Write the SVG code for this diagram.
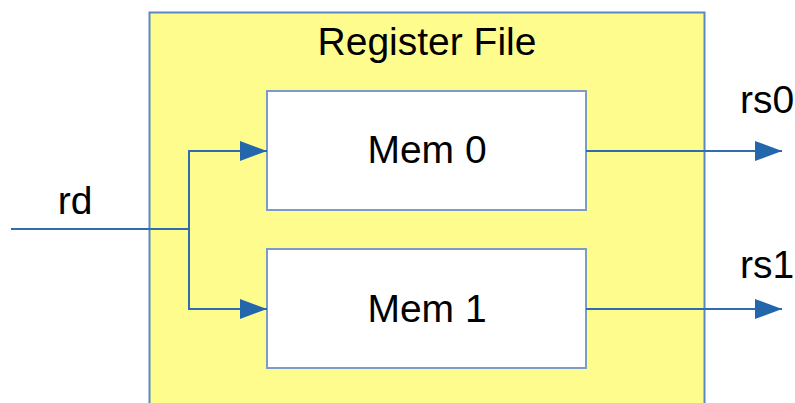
<svg xmlns="http://www.w3.org/2000/svg" width="795" height="403" viewBox="0 0 795 403">
  <defs>
    <marker id="arrow" markerUnits="userSpaceOnUse" markerWidth="28" markerHeight="20" refX="27" refY="10" orient="auto">
      <path d="M0,0 L27,10 L0,20 Z" fill="#2466AC"/>
    </marker>
    <style>
      .lbl { font-family: "Liberation Sans", Arial, sans-serif; font-size: 39px; fill: #000; }
      .wire { fill: none; stroke: #2F6DB0; stroke-width: 2; }
      .mem { fill: #FFFFFF; stroke: #7C9CC4; stroke-width: 2; }
    </style>
  </defs>

  <rect width="795" height="403" fill="#FFFFFF"/>

  <!-- register file container -->
  <g id="register-file">
    <rect x="149.5" y="12.5" width="555" height="400" fill="#FFFC8E" stroke="#5A88C0" stroke-width="2"/>
    <text class="lbl" x="427" y="55" text-anchor="middle">Register File</text>
  </g>

  <g id="mem0">
    <rect class="mem" x="267" y="91" width="319" height="119"/>
    <text class="lbl" x="427" y="163" text-anchor="middle">Mem 0</text>
  </g>

  <g id="mem1">
    <rect class="mem" x="267" y="249" width="319" height="119"/>
    <text class="lbl" x="427" y="322" text-anchor="middle">Mem 1</text>
  </g>

  <!-- port labels -->
  <g id="rd">
    <text class="lbl" x="75" y="214" text-anchor="middle">rd</text>
  </g>
  <g id="rs0">
    <text class="lbl" x="740" y="113">rs0</text>
  </g>
  <g id="rs1">
    <text class="lbl" x="740" y="278">rs1</text>
  </g>

  <!-- connectors -->
  <g id="connectors">
    <path class="wire" d="M11,229 H189"/>
    <path class="wire" d="M189,229 V151 H267" marker-end="url(#arrow)"/>
    <path class="wire" d="M189,229 V309 H267" marker-end="url(#arrow)"/>
    <path class="wire" d="M586,151 H782" marker-end="url(#arrow)"/>
    <path class="wire" d="M586,309 H782" marker-end="url(#arrow)"/>
  </g>
</svg>
